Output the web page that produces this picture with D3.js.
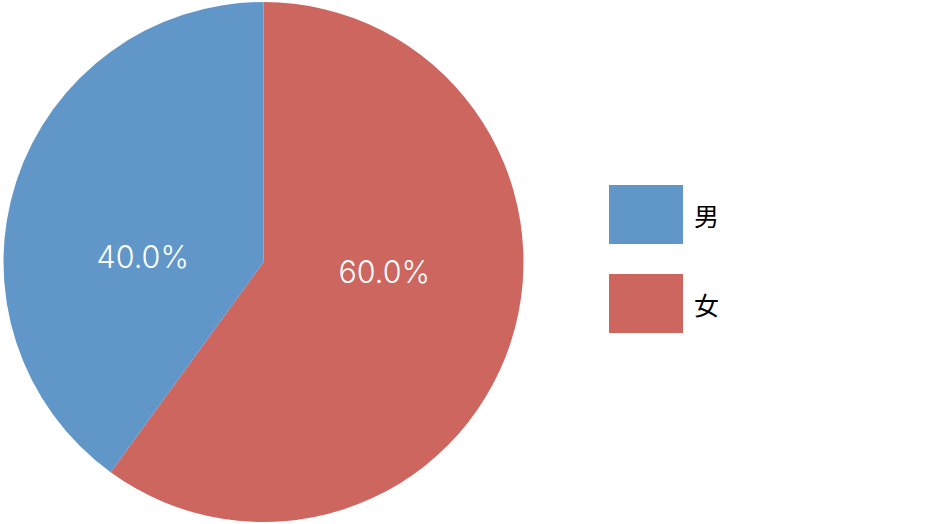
<!DOCTYPE html>
<html><head><meta charset="utf-8">
<script src="https://cdn.jsdelivr.net/npm/d3@7"></script>
<style>body{margin:0;background:#fff}svg{display:block}</style>
</head><body>
<svg id="c" width="940" height="524"></svg>
<script>
const categories = ["女", "男"];
const values = [60.0, 40.0];
const colors = ["#CD665F", "#6196C9"];
const legendOrder = ["男", "女"];

const svg = d3.select("#c");
const cx = 263.5, cy = 262, R = 260;
const color = d3.scaleOrdinal().domain(categories).range(colors);
const pie = d3.pie().sort(null).value(d => d.v);
const data = categories.map((c, i) => ({c, v: values[i]}));
const arcs = pie(data);
const arc = d3.arc().innerRadius(0).outerRadius(R);
const g = svg.append("g").attr("transform", `translate(${cx},${cy})`);
g.selectAll("path").data(arcs).join("path")
  .attr("d", arc).attr("fill", d => color(d.data.c));
const labelArc = d3.arc().innerRadius(127).outerRadius(127);
g.selectAll("text").data(arcs).join("text")
  .attr("x", d => labelArc.centroid(d)[0])
  .attr("y", d => labelArc.centroid(d)[1] * 0.2 + 2)
  .attr("text-anchor", "middle").attr("dominant-baseline", "central")
  .attr("fill", "#fff").attr("font-family", "Inter, 'Noto Sans', sans-serif")
  .attr("font-weight", 300).attr("font-size", 30.5)
  .text(d => d3.format(".1f")(d.data.v) + "%");

const lg = svg.append("g");
const ly = d3.scaleBand().domain(legendOrder).range([185, 333]).paddingInner(0.337).paddingOuter(0);
legendOrder.forEach(c => {
  lg.append("rect").attr("x", 609).attr("y", ly(c)).attr("width", 74).attr("height", ly.bandwidth())
    .attr("fill", color(c));
  lg.append("text").attr("x", 694).attr("y", ly(c) + 30).attr("dominant-baseline", "central")
    .attr("font-family", "'Noto Sans CJK JP', sans-serif").attr("font-size", 25)
    .attr("fill", "#000").text(c);
});
</script>
</body></html>
